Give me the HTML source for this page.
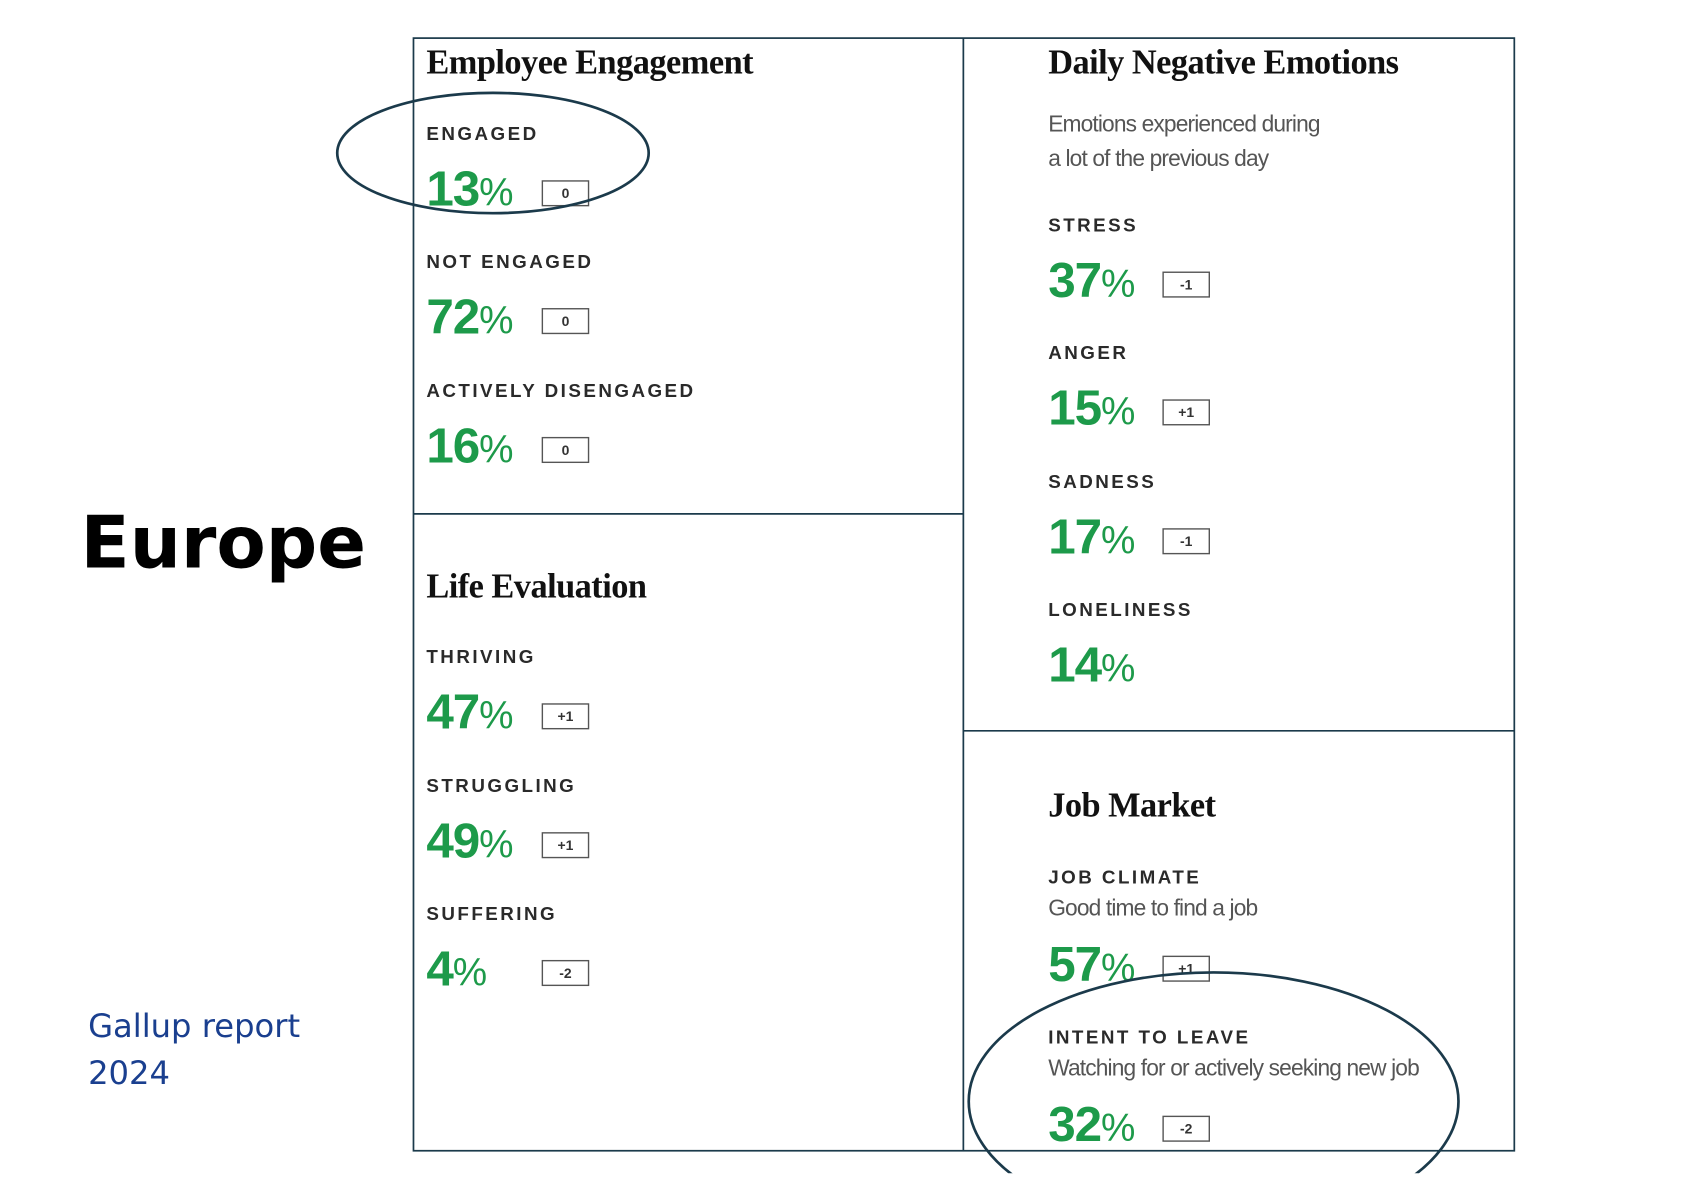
<!DOCTYPE html>
<html><head><meta charset="utf-8"><style>
html,body{margin:0;padding:0;background:#fff;width:1684px;height:1191px;overflow:hidden}
svg{display:block}
.title{font-family:"Liberation Serif",serif;font-weight:bold;font-size:32px;fill:#111;letter-spacing:-0.5px}
.lab{font-family:"Liberation Sans",sans-serif;font-weight:bold;font-size:17.5px;fill:#2a2a2a;letter-spacing:2.3px}
.sub{font-family:"Liberation Sans",sans-serif;font-size:21.2px;fill:#555;letter-spacing:-0.8px}
.num{font-family:"Liberation Sans",sans-serif;font-weight:bold;font-size:46px;fill:#1d9a4a;letter-spacing:-1px}
.pct{font-size:36px;font-weight:normal}
.dlt{font-family:"Liberation Sans",sans-serif;font-weight:bold;font-size:13px;fill:#333}
</style></head><body>
<svg id="chart" width="1684" height="1191" viewBox="0 0 1568 1108" xmlns="http://www.w3.org/2000/svg">
<g stroke="#1b3a4b" stroke-width="1.6" fill="none">
<rect x="385" y="35" width="1025" height="1036"/>
<line x1="897" y1="35" x2="897" y2="1071"/>
<line x1="385" y1="478" x2="897" y2="478"/>
<line x1="897" y1="680" x2="1410" y2="680"/>
</g>
<text class="title" x="397" y="68">Employee Engagement</text>
<text class="title" x="397" y="556">Life Evaluation</text>
<text class="title" x="976" y="68">Daily Negative Emotions</text>
<text class="title" x="976" y="760">Job Market</text>
<text class="sub" x="976" y="122">Emotions experienced during</text>
<text class="sub" x="976" y="154">a lot of the previous day</text>
<text class="sub" x="976" y="852">Good time to find a job</text>
<text class="sub" x="976" y="1001">Watching for or actively seeking new job</text>
<g id="metrics"></g>
<defs><clipPath id="clipb"><rect x="0" y="0" width="1568" height="1092"/></clipPath></defs>
<ellipse cx="459" cy="142" rx="145" ry="56" fill="none" stroke="#1b3a4b" stroke-width="2.5"/>
<ellipse cx="1130" cy="1025" rx="228" ry="120" fill="none" stroke="#1b3a4b" stroke-width="2.5" clip-path="url(#clipb)"/>
<text x="75" y="528" style="font-family:'DejaVu Sans',sans-serif;font-weight:bold;font-size:67px;fill:#000">Europe</text>
<text x="82" y="965" style="font-family:'DejaVu Sans',sans-serif;font-size:30px;fill:#1a3f8f">Gallup report</text>
<text x="82" y="1009" style="font-family:'DejaVu Sans',sans-serif;font-size:30px;fill:#1a3f8f">2024</text>
</svg>
<script>
const labels = ["ENGAGED","NOT ENGAGED","ACTIVELY DISENGAGED","THRIVING","STRUGGLING","SUFFERING","STRESS","ANGER","SADNESS","LONELINESS","JOB CLIMATE","INTENT TO LEAVE"];
const values = [13,72,16,47,49,4,37,15,17,14,57,32];
const deltas = ["0","0","0","+1","+1","-2","-1","+1","-1","","+1","-2"];
const colX = [397,397,397,397,397,397,976,976,976,976,976,976];
const labelY = [130,249,369,617,737,856,215,334,454,573,822,971];
const NS="http://www.w3.org/2000/svg";
const g=document.getElementById('metrics');
labels.forEach((lab,i)=>{
  const x=colX[i], ly=labelY[i];
  const vy = ly + ((i===10||i===11) ? 91 : 61);
  const t=document.createElementNS(NS,'text');
  t.setAttribute('class','lab');t.setAttribute('x',x);t.setAttribute('y',ly);t.textContent=lab;
  
  
  g.appendChild(t);
  const v=document.createElementNS(NS,'text');
  v.setAttribute('class','num');v.setAttribute('x',x);v.setAttribute('y',vy);
  v.textContent=values[i];
  const p=document.createElementNS(NS,'tspan');p.setAttribute('class','pct');p.textContent='%';v.appendChild(p);
  
  
  g.appendChild(v);
  if(deltas[i]!==''){
    const bx = x===397 ? 505 : 1083;
    const r=document.createElementNS(NS,'rect');
    r.setAttribute('x',bx);r.setAttribute('y',vy-23);r.setAttribute('width',43);r.setAttribute('height',23);
    r.setAttribute('fill','none');r.setAttribute('stroke','#555');r.setAttribute('stroke-width','1.3');
    
    
    g.appendChild(r);
    const d=document.createElementNS(NS,'text');
    d.setAttribute('class','dlt');d.setAttribute('x',bx+21.5);d.setAttribute('y',vy-7);d.setAttribute('text-anchor','middle');
    d.textContent=deltas[i];
    
    
    g.appendChild(d);
  }
});
</script>
</body></html>
